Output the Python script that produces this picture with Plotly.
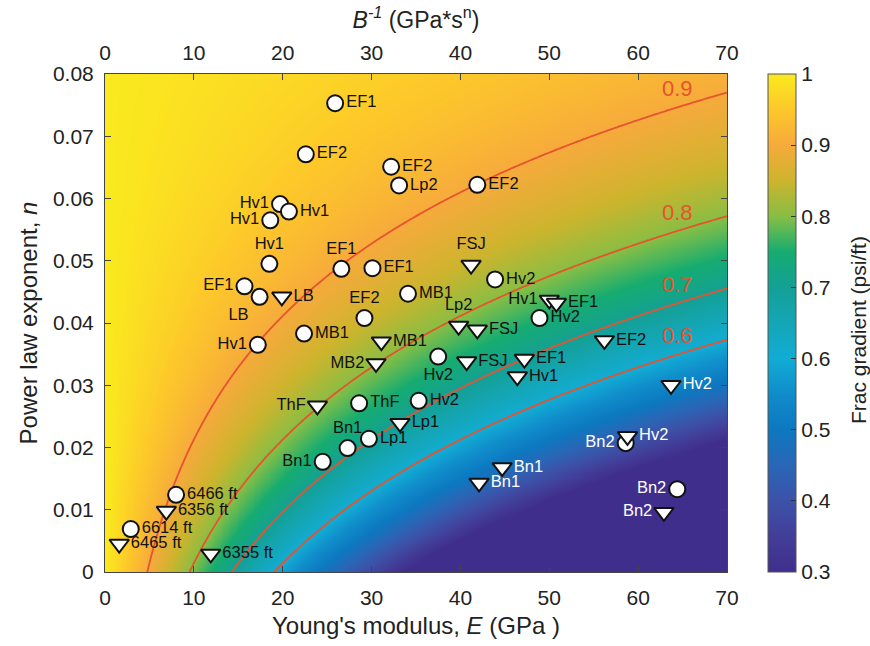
import numpy as np
import plotly.graph_objects as go

# ---------------- data ----------------
# circles (open circle markers)
circ_labels = ["EF1", "EF2", "EF2", "Lp2", "EF2", "Hv1", "Hv1", "Hv1", "Hv1", "EF1",
               "EF1", "EF1", "LB", "Hv1", "MB1", "EF2", "MB1", "ThF", "Hv2", "Lp1",
               "Bn1", "Bn1", "Hv2", "Hv2", "Hv2", "Bn2", "Bn2", "6466 ft", "6614 ft"]
circ_E = [25.9, 22.6, 32.2, 33.1, 41.9, 19.7, 20.7, 18.6, 18.5, 26.6,
          30.1, 15.7, 17.4, 17.2, 22.4, 29.2, 34.1, 28.6, 35.3, 29.7,
          27.3, 24.5, 43.9, 48.9, 37.5, 58.6, 64.4, 8.0, 2.9]
circ_n = [0.0753, 0.0671, 0.0651, 0.0621, 0.0622, 0.0591, 0.0579, 0.0565, 0.0495, 0.0487,
          0.0488, 0.0459, 0.0442, 0.0365, 0.0383, 0.0408, 0.0447, 0.0271, 0.0275, 0.0214,
          0.0199, 0.0177, 0.0470, 0.0408, 0.0346, 0.0207, 0.0133, 0.0124, 0.0069]

# triangles (down-pointing markers)
tri_labels = ["LB", "MB1", "MB2", "ThF", "Lp1", "FSJ", "Hv1", "EF1", "Lp2", "FSJ",
              "FSJ", "EF1", "Hv1", "EF2", "Hv2", "Hv2", "Bn1", "Bn1", "Bn2",
              "6356 ft", "6465 ft", "6355 ft"]
tri_E = [19.9, 31.1, 30.5, 23.9, 33.2, 41.2, 50.0, 50.8, 39.8, 41.9,
         40.7, 47.2, 46.4, 56.2, 63.7, 58.8, 44.7, 42.1, 62.9,
         6.9, 1.6, 11.9]
tri_n = [0.0442, 0.0370, 0.0335, 0.0267, 0.0239, 0.0493, 0.0437, 0.0432, 0.0395, 0.0389,
         0.0338, 0.0342, 0.0314, 0.0372, 0.0300, 0.0218, 0.0168, 0.0143, 0.0096,
         0.0098, 0.0045, 0.0029]

# background model: frac gradient = 1 - E*exp(-lam*n)/E_scale (parameters)
E_scale = 47.6
lam = 34.9
contour_levels = [0.9, 0.8, 0.7, 0.6]
x_ticks = [0, 10, 20, 30, 40, 50, 60, 70]
y_ticks = [0, 0.01, 0.02, 0.03, 0.04, 0.05, 0.06, 0.07, 0.08]
cb_ticks = [0.3, 0.4, 0.5, 0.6, 0.7, 0.8, 0.9, 1.0]

# ---------------- styles ----------------
circ_pos = ["middle right", "middle right", "middle right", "middle right", "middle right",
            "middle left", "middle right", "middle left", "top center", "top center",
            "middle right", "middle left", "bottom left", "middle left", "middle right",
            "top center", "middle right", "middle right", "middle right", "middle right",
            "top center", "middle left", "middle right", "middle right", "bottom center",
            "middle left", "middle left", "middle right", "middle right"]
circ_white = {25, 26}
tri_pos = ["middle right", "middle right", "middle left", "middle left", "middle right",
           "top center", "middle left", "middle right", "top center", "middle right",
           "middle right", "middle right", "middle right", "middle right", "middle right",
           "middle right", "middle right", "middle right", "middle left",
           "middle right", "middle right", "middle right"]
tri_white = {14, 15, 16, 17, 18}

FONT = "Liberation Sans, Arial, Helvetica, sans-serif"
RED = "#E5532F"
TXT = "#222"

parula = [
    [0.000, "rgb(64,46,140)"],
    [0.071, "rgb(66,62,152)"],
    [0.143, "rgb(60,82,168)"],
    [0.214, "rgb(42,102,182)"],
    [0.286, "rgb(12,120,192)"],
    [0.357, "rgb(16,140,202)"],
    [0.429, "rgb(18,172,212)"],
    [0.500, "rgb(20,166,182)"],
    [0.571, "rgb(20,160,150)"],
    [0.643, "rgb(22,172,112)"],
    [0.680, "rgb(80,182,90)"],
    [0.714, "rgb(135,190,68)"],
    [0.786, "rgb(205,180,45)"],
    [0.857, "rgb(246,170,60)"],
    [0.929, "rgb(253,200,42)"],
    [1.000, "rgb(250,234,30)"],
]

# ---------------- field ----------------
Eg = np.linspace(0, 70, 351)
ng = np.linspace(0, 0.08, 241)
EE, NN = np.meshgrid(Eg, ng)
Z = 1 - EE * np.exp(-lam * NN) / E_scale

fig = go.Figure()
fig.add_trace(go.Heatmap(
    x=Eg, y=ng, z=Z, zmin=0.3, zmax=1, colorscale=parula, zsmooth="best",
    hoverinfo="skip",
    colorbar=dict(
        x=(768 - 105) / 622, xanchor="left", xpad=0, ypad=0,
        y=0.5, yanchor="middle", len=1.0, lenmode="fraction",
        thickness=28, thicknessmode="pixels",
        outlinecolor="#555", outlinewidth=1,
        tickvals=cb_ticks, ticktext=[f"{v:g}" for v in cb_ticks],
        ticks="inside", ticklen=5, tickcolor="#333",
        tickfont=dict(family=FONT, size=21, color=TXT),
    ),
))
fig.add_trace(go.Contour(
    x=Eg, y=ng, z=Z, showscale=False, hoverinfo="skip",
    contours=dict(start=min(contour_levels), end=max(contour_levels), size=0.1,
                  coloring="none", showlabels=False),
    line=dict(color=RED, width=1.8),
))

fig.add_trace(go.Scatter(
    x=circ_E, y=circ_n, mode="markers+text", text=circ_labels,
    textposition=circ_pos,
    textfont=dict(family=FONT, size=16.5,
                  color=["white" if i in circ_white else "#111" for i in range(len(circ_E))]),
    marker=dict(symbol="circle", size=16, color="white",
                line=dict(color="#111", width=2)),
    hoverinfo="skip", cliponaxis=False,
))
fig.add_trace(go.Scatter(
    x=tri_E, y=tri_n, mode="markers+text", text=tri_labels,
    textposition=tri_pos,
    textfont=dict(family=FONT, size=16.5,
                  color=["white" if i in tri_white else "#111" for i in range(len(tri_E))]),
    marker=dict(symbol="triangle-down", size=17, color="white",
                line=dict(color="#111", width=2)),
    hoverinfo="skip", cliponaxis=False,
))
# invisible trace to activate the top axis
fig.add_trace(go.Scatter(x=[0, 70], y=[0, 0], xaxis="x2", mode="markers",
                         marker=dict(opacity=0), hoverinfo="skip", showlegend=False))

# contour level labels, placed just above each curve near the right edge
E_lab = 64.4
for L in contour_levels:
    n_line = np.log(E_lab / (E_scale * (1 - L))) / lam
    fig.add_annotation(x=E_lab, y=n_line, text=f"{L:g}", showarrow=False,
                       yshift=19, font=dict(family=FONT, size=22, color=RED))

# colorbar title
fig.add_annotation(xref="paper", yref="paper", x=(858 - 105) / 622, y=(572 - 330) / 498,
                   text="Frac gradient (psi/ft)", textangle=-90, showarrow=False,
                   xanchor="center", yanchor="middle",
                   font=dict(family=FONT, size=21, color=TXT))

axis_common = dict(ticks="inside", ticklen=6, tickcolor="#444", showgrid=False,
                   zeroline=False, showline=True, linecolor="#444", linewidth=1,
                   tickfont=dict(family=FONT, size=21, color=TXT))

fig.update_layout(
    width=870, height=646,
    margin=dict(l=105, r=143, t=74, b=74),
    paper_bgcolor="white", plot_bgcolor="white",
    showlegend=False,
    xaxis=dict(range=[0, 70], tickvals=x_ticks, mirror=False, ticklabelstandoff=7,
               title=dict(text="Young's modulus, <i>E</i> (GPa )", standoff=8,
                          font=dict(family=FONT, size=24, color=TXT)),
               **axis_common),
    xaxis2=dict(range=[0, 70], tickvals=x_ticks, overlaying="x", side="top",
                anchor="y", ticklabelstandoff=5,
                title=dict(text="<i>B</i><sup><i>-1</i></sup> (GPa*s<sup>n</sup>)", standoff=5,
                           font=dict(family=FONT, size=23, color=TXT)),
                **axis_common),
    yaxis=dict(range=[0, 0.08], tickvals=y_ticks, ticktext=[f"{v:g}" for v in y_ticks],
               mirror="ticks", ticklabelstandoff=6,
               title=dict(text="Power law exponent, <i>n</i>", standoff=8,
                          font=dict(family=FONT, size=24, color=TXT)),
               **axis_common),
)

fig.write_html("out.html")
